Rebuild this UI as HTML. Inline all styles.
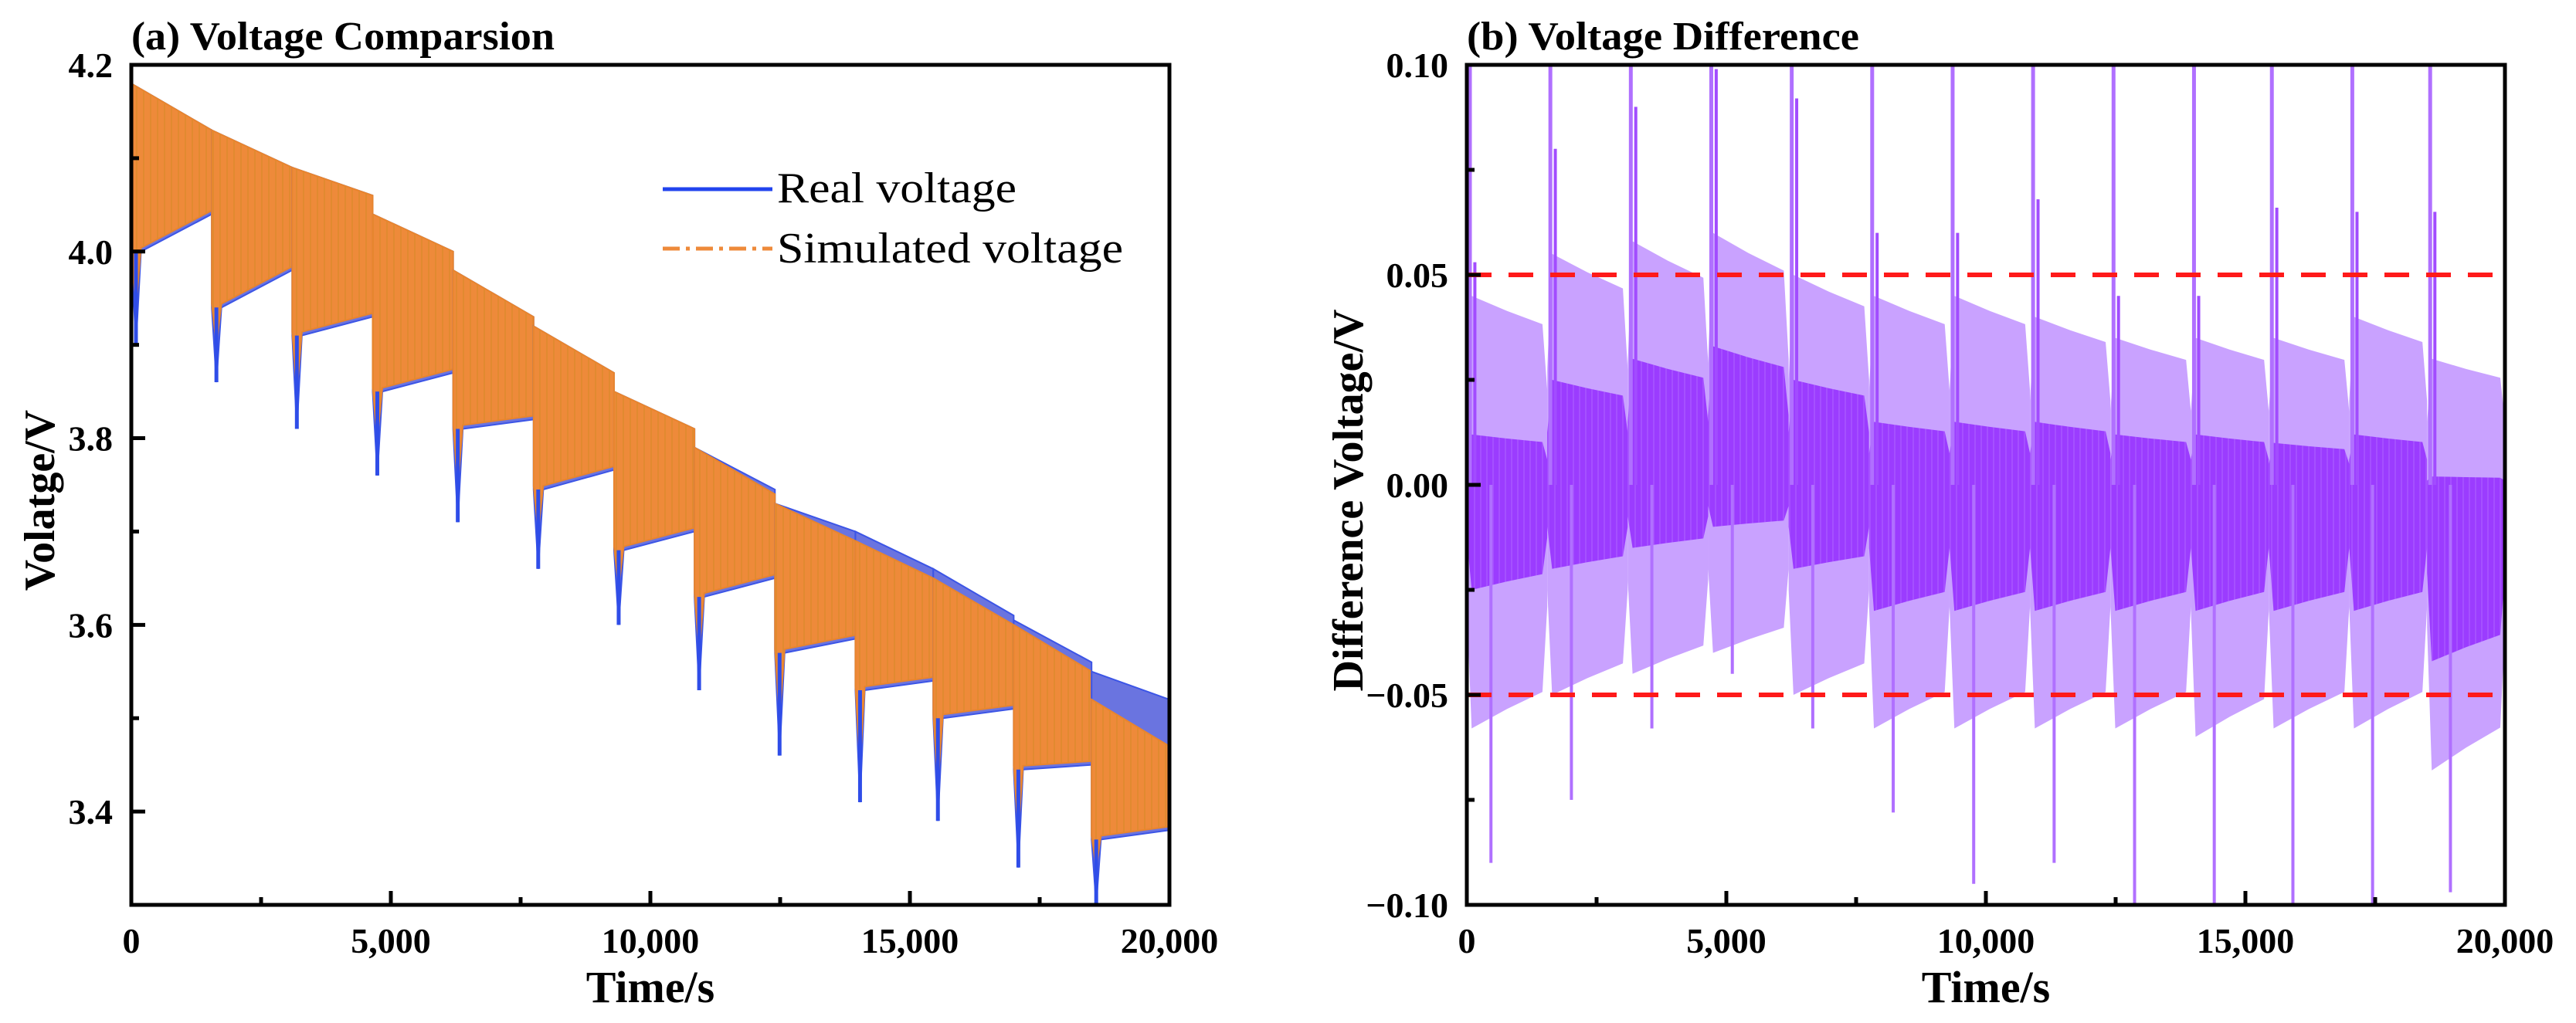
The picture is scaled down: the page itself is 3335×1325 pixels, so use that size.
<!DOCTYPE html>
<html><head><meta charset="utf-8"><style>
html,body{margin:0;padding:0;background:#fff;}
svg{display:block;font-family:"Liberation Serif",serif;}
</style></head><body>
<svg id="chart" width="3335" height="1325" viewBox="0 0 3335 1325" xmlns="http://www.w3.org/2000/svg">
<defs>
<pattern id="hatchA" width="9" height="20" patternUnits="userSpaceOnUse"><rect width="9" height="20" fill="#ee8a3a"/><rect x="5" width="2" height="20" fill="#d98a2a" opacity="0.6"/></pattern>
<pattern id="hatchB" width="8" height="20" patternUnits="userSpaceOnUse"><rect width="8" height="20" fill="#9b3cff"/><rect x="4" width="2" height="20" fill="#a855ff" opacity="0.8"/></pattern>
</defs>
<g id="pa"></g>
<g id="pb"></g>
</svg>
<script>
// ---- Data ----
const cycleStarts = [0,1550,3100,4650,6200,7750,9300,10850,12400,13950,15450,17000,18500];
const cycleEnd = 20000;
// Panel a: envelope of voltage per cycle (start value, end value)
const realTopStart = [4.18,4.13,4.09,4.04,3.98,3.92,3.85,3.79,3.73,3.70,3.66,3.605,3.55];
const realTopEnd   = [4.13,4.09,4.06,4.00,3.93,3.87,3.81,3.745,3.70,3.66,3.61,3.56,3.52];
const simTopStart  = [4.18,4.13,4.09,4.04,3.98,3.92,3.85,3.79,3.73,3.69,3.65,3.60,3.52];
const simTopEnd    = [4.13,4.09,4.06,4.00,3.93,3.87,3.81,3.74,3.69,3.65,3.60,3.55,3.47];
const botStart     = [4.00,3.94,3.91,3.85,3.81,3.745,3.68,3.63,3.57,3.53,3.50,3.445,3.37];
const botEnd       = [4.04,3.98,3.93,3.87,3.82,3.766,3.70,3.65,3.585,3.54,3.51,3.45,3.38];
const spikeMin     = [3.90,3.86,3.81,3.76,3.71,3.66,3.60,3.53,3.46,3.41,3.39,3.34,3.30];
// Panel b: difference envelopes per cycle
const coreTop  = [0.012,0.025,0.030,0.033,0.025,0.015,0.015,0.015,0.012,0.012,0.010,0.012,0.002];
const coreBot  = [-0.025,-0.020,-0.015,-0.010,-0.020,-0.030,-0.030,-0.030,-0.030,-0.030,-0.030,-0.030,-0.042];
const outerTop = [0.045,0.055,0.058,0.060,0.050,0.045,0.045,0.040,0.035,0.035,0.035,0.040,0.030];
const outerBot = [-0.058,-0.050,-0.045,-0.040,-0.050,-0.058,-0.058,-0.058,-0.058,-0.060,-0.058,-0.058,-0.068];
const peakUp   = [0.053,0.080,0.090,0.099,0.092,0.060,0.060,0.068,0.045,0.045,0.066,0.065,0.065];
const peakDown = [-0.090,-0.075,-0.058,-0.045,-0.058,-0.078,-0.095,-0.090,-0.100,-0.100,-0.100,-0.100,-0.097];
const limitLines = [0.05,-0.05];
const xTicks = [0,5000,10000,15000,20000];
const xTickLabels = ["0","5,000","10,000","15,000","20,000"];
const yTicksA = [3.4,3.6,3.8,4.0,4.2];
const yTickLabelsA = ["3.4","3.6","3.8","4.0","4.2"];
const yTicksB = [-0.10,-0.05,0.00,0.05,0.10];
const yTickLabelsB = ["\u22120.10","\u22120.05","0.00","0.05","0.10"];

const NS="http://www.w3.org/2000/svg";
function mk(parent,tag,attrs,text){const e=document.createElementNS(NS,tag);for(const k in attrs)e.setAttribute(k,attrs[k]);if(text!==undefined)e.textContent=text;parent.appendChild(e);return e;}

const T=84,B=1172;
const A={L:170,R:1514,ymin:3.3,ymax:4.2};
const Bp={L:1899,R:3243,ymin:-0.1,ymax:0.1};
function sx(p,t){return p.L+(t/20000)*(p.R-p.L);}
function sy(p,v){return B-(v-p.ymin)/(p.ymax-p.ymin)*(B-T);}

const pa=document.getElementById('pa'), pb=document.getElementById('pb');
const defs=document.querySelector('defs');
const c1=mk(defs,'clipPath',{id:'clipA'});mk(c1,'rect',{x:A.L,y:T,width:A.R-A.L,height:B-T});
const c2=mk(defs,'clipPath',{id:'clipB'});mk(c2,'rect',{x:Bp.L,y:T,width:Bp.R-Bp.L,height:B-T});

// ---- Panel a series ----
const ga=mk(pa,'g',{'clip-path':'url(#clipA)'});


for(let i=0;i<cycleStarts.length;i++){
  const t0=cycleStarts[i], t1=(i+1<cycleStarts.length?cycleStarts[i+1]:cycleEnd);
  const x0=sx(A,t0), x1=sx(A,t1), xm=sx(A,t0+(t1-t0)*0.12);
  let pts=[[x0,sy(A,realTopStart[i])],[x1,sy(A,realTopEnd[i])],[x1,sy(A,botEnd[i])],[xm,sy(A,botStart[i])],[x0+6,sy(A,spikeMin[i])],[x0,sy(A,botStart[i])]];
  const rb=mk(ga,'polygon',{points:pts.map(p=>p.join(',')).join(' '),fill:'#6a74e0',stroke:'#3c55e6','stroke-width':2});
  
  
  const d=0.004;
  pts=[[x0,sy(A,simTopStart[i])],[x1,sy(A,simTopEnd[i])],[x1,sy(A,botEnd[i]+d)],[xm,sy(A,botStart[i]+d)],[x0+6,sy(A,spikeMin[i]+0.04)],[x0,sy(A,botStart[i]+d)]];
  const sb=mk(ga,'polygon',{points:pts.map(p=>p.join(',')).join(' '),fill:'url(#hatchA)',stroke:'#e8852e','stroke-width':2});
  
  
  const sp=mk(ga,'line',{x1:x0+6,y1:sy(A,botStart[i]),x2:x0+6,y2:sy(A,spikeMin[i]),stroke:'#2f4de8','stroke-width':5});
  
  
}

// ---- Panel b series ----
const gb=mk(pb,'g',{'clip-path':'url(#clipB)'});


const shape=[[0,0.5],[0.06,1],[0.5,0.92],[0.94,0.85],[1,0.5]];
for(let i=0;i<cycleStarts.length;i++){
  const t0=cycleStarts[i], t1=(i+1<cycleStarts.length?cycleStarts[i+1]:cycleEnd);
  function band(top,bot){
    const up=shape.map(s=>[sx(Bp,t0+(t1-t0)*s[0]),sy(Bp,top*s[1])]);
    const dn=shape.slice().reverse().map(s=>[sx(Bp,t0+(t1-t0)*s[0]),sy(Bp,bot*s[1])]);
    return up.concat(dn).map(p=>p.join(',')).join(' ');
  }
  const ob=mk(gb,'polygon',{points:band(outerTop[i],outerBot[i]),fill:'#c9a2ff'});
  
  
  const cb=mk(gb,'polygon',{points:band(coreTop[i],coreBot[i]),fill:'url(#hatchB)'});
  
  
  const xs=sx(Bp,t0)+4;
  const s1=mk(gb,'line',{x1:xs,y1:sy(Bp,0),x2:xs,y2:sy(Bp,0.1),stroke:'#b070ff','stroke-width':5});
  
  
  const xp=sx(Bp,t0+(t1-t0)*0.1);
  const s2=mk(gb,'line',{x1:xp,y1:sy(Bp,0),x2:xp,y2:sy(Bp,peakUp[i]),stroke:'#a24cff','stroke-width':4});
  
  
  const xq=sx(Bp,t0+(t1-t0)*0.3);
  const s3=mk(gb,'line',{x1:xq,y1:sy(Bp,0),x2:xq,y2:sy(Bp,peakDown[i]),stroke:'#b070ff','stroke-width':4});
  
  
}
limitLines.forEach(v=>{
  const l=mk(pb,'line',{x1:Bp.L,x2:Bp.R,y1:sy(Bp,v),y2:sy(Bp,v),stroke:'#ff1a1a','stroke-width':6,'stroke-dasharray':'32,22'});
  
  
});

// ---- Axes ----
function axes(g,p,yt,ytl,minorY,title,ytitle,ytx,tlen){
  const fr=mk(g,'rect',{x:p.L,y:T,width:p.R-p.L,height:B-T,fill:'none',stroke:'#000','stroke-width':5});
  
  
  for(let t=0;t<=20000;t+=2500){
    const major=t%5000===0;
    const x=sx(p,t);
    mk(g,'line',{x1:x,x2:x,y1:B,y2:B-(major?18:10),stroke:'#000','stroke-width':5});
  }
  xTicks.forEach((t,i)=>{
    const tl=mk(g,'text',{x:sx(p,t),y:1234,'font-size':46,'font-weight':'bold','text-anchor':'middle'},xTickLabels[i]);
    
    
  });
  minorY.forEach(v=>{mk(g,'line',{x1:p.L,x2:p.L+10,y1:sy(p,v),y2:sy(p,v),stroke:'#000','stroke-width':5});});
  yt.forEach((v,i)=>{
    mk(g,'line',{x1:p.L,x2:p.L+18,y1:sy(p,v),y2:sy(p,v),stroke:'#000','stroke-width':5});
    const tl=mk(g,'text',{x:p.L-24,y:sy(p,v)+16,'font-size':46,'font-weight':'bold','text-anchor':'end'},ytl[i]);
    
    
  });
  const xt=mk(g,'text',{x:(p.L+p.R)/2,y:1298,'font-size':58,'font-weight':'bold','text-anchor':'middle'},'Time/s');
  
  
  const tt=mk(g,'text',{x:p.L,y:64,'font-size':52,'font-weight':'bold',textLength:tlen,lengthAdjust:'spacingAndGlyphs'},title);
  
  
  const yy=mk(g,'text',{x:0,y:0,'font-size':56,'font-weight':'bold','text-anchor':'middle',transform:`translate(${ytx},${(T+B)/2+20}) rotate(-90)`},ytitle);
  
  
}
axes(pa,A,yTicksA,yTickLabelsA,[3.5,3.7,3.9,4.1],'(a) Voltage Comparsion','Volatge/V',70,548);
axes(pb,Bp,yTicksB,yTickLabelsB,[-0.075,-0.025,0.025,0.075],'(b) Voltage Difference','Difference Voltage/V',1764,508);

// ---- Legend ----
const lg=mk(pa,'g',{});


const l1=mk(lg,'line',{x1:858,x2:1000,y1:245,y2:245,stroke:'#2244ee','stroke-width':5});


const t1=mk(lg,'text',{x:1006,y:262,'font-size':56,textLength:310,lengthAdjust:'spacingAndGlyphs'},'Real voltage');


const l2=mk(lg,'line',{x1:858,x2:1000,y1:322,y2:322,stroke:'#ee8a3a','stroke-width':5,'stroke-dasharray':'22,8,5,8'});


const t2=mk(lg,'text',{x:1006,y:340,'font-size':56,textLength:448,lengthAdjust:'spacingAndGlyphs'},'Simulated voltage');


</script>
</body></html>
